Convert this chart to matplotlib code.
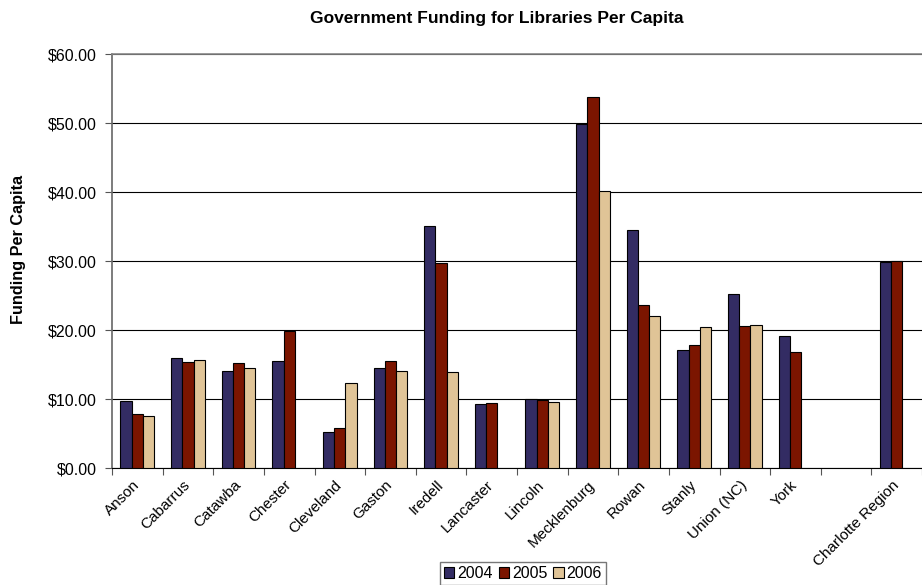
import numpy as np
import matplotlib
matplotlib.use('Agg')
import matplotlib.pyplot as plt
from matplotlib.patches import Patch

plt.rcParams['font.family'] = ['Liberation Sans', 'DejaVu Sans']

# Data (NaN = no bar)
counties = ['Anson', 'Cabarrus', 'Catawba', 'Chester', 'Cleveland', 'Gaston',
            'Iredell', 'Lancaster', 'Lincoln', 'Mecklenburg', 'Rowan', 'Stanly',
            'Union (NC)', 'York', '', 'Charlotte Region']
funding_2004 = [9.70, 15.93, 14.04, 15.54, 5.21, 14.48, 35.09, 9.36, 10.04,
                49.86, 34.51, 17.09, 25.29, 19.11, np.nan, 29.88]
funding_2005 = [7.87, 15.44, 15.20, 19.88, 5.89, 15.54, 29.78, 9.46, 9.94,
                53.77, 23.65, 17.86, 20.66, 16.80, np.nan, 30.07]
funding_2006 = [7.63, 15.69, 14.53, np.nan, 12.31, 14.09, 14.00, np.nan, 9.56,
                40.21, 22.06, 20.42, 20.70, np.nan, np.nan, np.nan]
years = ['2004', '2005', '2006']
colors = ['#332c63', '#7b1500', '#e0c497']

fig = plt.figure(figsize=(9.22, 5.85), dpi=100)
ax = fig.add_axes([112 / 922, 1 - 468.3 / 585, 1 - 112 / 922, (468.3 - 54) / 585])

x = np.arange(len(counties))
w = 0.222
for i, (vals, c) in enumerate(zip([funding_2004, funding_2005, funding_2006], colors)):
    ax.bar(x + (i - 1) * w, vals, width=w, color=c, edgecolor='black', linewidth=0.8, zorder=3)

ax.set_ylim(0, 60)
ax.set_xlim(-0.5, -0.5 + (922 - 112) / 51.2)
ax.set_yticks(np.arange(0, 61, 10))
ax.set_yticklabels([f'${v:.2f}' for v in range(0, 61, 10)], fontsize=11.5)
ax.tick_params(axis='y', length=5, width=0.8, color='#555555', pad=6)

ax.set_xticks(x)
ax.set_xticklabels(counties, rotation=45, ha='right', va='center',
                   rotation_mode='anchor', fontsize=11)
ax.tick_params(axis='x', which='major', length=0, pad=10.5)
ax.set_xticks(np.arange(-0.5, len(counties), 1), minor=True)
ax.tick_params(axis='x', which='minor', length=5, width=0.8, color='#555555')

ax.yaxis.grid(True, color='black', linewidth=0.8, zorder=0)
ax.set_axisbelow(True)
ax.spines['right'].set_visible(False)
ax.spines['top'].set_color('#888888')
ax.spines['top'].set_linewidth(1.2)
ax.spines['left'].set_color('#666666')
ax.spines['left'].set_linewidth(1.2)
ax.spines['bottom'].set_color('black')

fig.text(497 / 922, 1 - 18 / 585, 'Government Funding for Libraries Per Capita',
         ha='center', va='center', fontsize=12.5, fontweight='bold')
fig.text(18 / 922, 1 - 249 / 585, 'Funding Per Capita', rotation=90,
         ha='center', va='center', fontsize=11.7, fontweight='bold')

handles = [Patch(facecolor=c, edgecolor='black', linewidth=0.8) for c in colors]
fig.legend(handles, years, loc='upper center', bbox_to_anchor=(523 / 922, 1 - 562 / 585),
           ncol=3, fontsize=11.5, frameon=True, fancybox=False, edgecolor='#555555',
           handlelength=0.65, handleheight=0.65, handletextpad=0.2, columnspacing=0.35,
           borderpad=0.25, borderaxespad=0)

fig.savefig('out.png', dpi=100)
